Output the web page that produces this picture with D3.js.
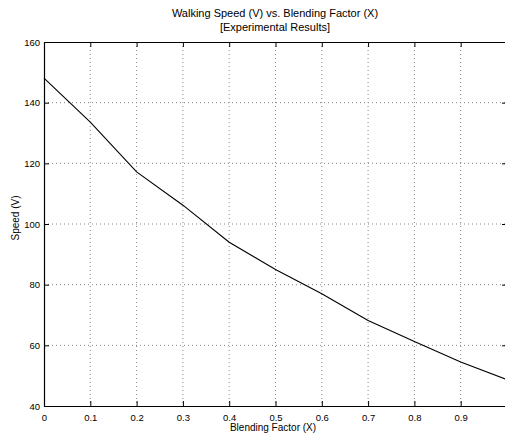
<!DOCTYPE html>
<html>
<head>
<meta charset="utf-8">
<script src="https://cdn.jsdelivr.net/npm/d3@7"></script>
<style>
  body { margin: 0; background: #fff; }
  svg { display: block; font-family: "Liberation Sans", Arial, sans-serif; }
</style>
</head>
<body>
<svg id="chart" width="505" height="435"></svg>
<script>
// data
var blending = [0, 0.1, 0.2, 0.3, 0.4, 0.5, 0.6, 0.7, 0.8, 0.9, 1.0];
var speed = [148.1, 133.6, 117.2, 106.2, 94.0, 85.0, 77.0, 68.2, 61.3, 54.5, 48.7];
var xTicks = [0, 0.1, 0.2, 0.3, 0.4, 0.5, 0.6, 0.7, 0.8, 0.9, 1.0];
var yTicks = [40, 60, 80, 100, 120, 140, 160];

var margin = {top: 42, right: -2, bottom: 29, left: 44},
    width = 505 - margin.left - margin.right,
    height = 435 - margin.top - margin.bottom;

var svg = d3.select('#chart');
var g = svg.append('g').attr('transform', 'translate(' + margin.left + ',' + margin.top + ')');

var x = d3.scaleLinear().domain([0, 1]).range([0, width]);
var y = d3.scaleLinear().domain([40, 160]).range([height, 0]);

// dotted grid
g.selectAll('.vgrid')
  .data(xTicks.slice(1, -1))
  .enter().append('line')
  .attr('x1', d => x(d)).attr('x2', d => x(d))
  .attr('y1', 0).attr('y2', height)
  .attr('stroke', '#888').attr('stroke-width', 1)
  .attr('stroke-dasharray', '1,3');

g.selectAll('.hgrid')
  .data(yTicks.slice(1, -1))
  .enter().append('line')
  .attr('x1', 0).attr('x2', width)
  .attr('y1', d => y(d)).attr('y2', d => y(d))
  .attr('stroke', '#888').attr('stroke-width', 1)
  .attr('stroke-dasharray', '1,3');

// axes, ticks pointing inwards
function styleAxis(sel) {
  sel.select('.domain').attr('stroke', '#000').attr('stroke-width', 1.2);
  sel.selectAll('.tick line').attr('stroke', '#000');
  sel.selectAll('.tick text').attr('fill', '#000').style('font-size', '9.5px')
    .style('font-family', '"Liberation Sans", Arial, sans-serif');
}

var fmtX = d => d === 0 ? '0' : d3.format('.1f')(d);

g.append('g')
  .attr('transform', 'translate(0,' + height + ')')
  .call(d3.axisBottom(x).tickValues(xTicks.slice(0, -1)).tickFormat(fmtX)
    .tickSizeInner(-5).tickSizeOuter(0).tickPadding(8))
  .call(styleAxis);

g.append('g')
  .call(d3.axisTop(x).tickValues(xTicks).tickFormat('')
    .tickSizeInner(-5).tickSizeOuter(0))
  .call(styleAxis);

g.append('g')
  .call(d3.axisLeft(y).tickValues(yTicks).tickFormat(d3.format('d'))
    .tickSizeInner(-5).tickSizeOuter(0).tickPadding(4))
  .call(styleAxis);

g.append('g')
  .attr('transform', 'translate(' + width + ',0)')
  .call(d3.axisRight(y).tickValues(yTicks).tickFormat('')
    .tickSizeInner(-5).tickSizeOuter(0))
  .call(styleAxis);

// the curve
var line = d3.line()
  .x((d, i) => x(blending[i]))
  .y(d => y(d));

g.append('path')
  .datum(speed)
  .attr('d', line)
  .attr('fill', 'none')
  .attr('stroke', '#000')
  .attr('stroke-width', 1.1);

// titles
svg.append('text')
  .attr('x', 275).attr('y', 17)
  .attr('text-anchor', 'middle')
  .style('font-size', '11px')
  .text('Walking Speed (V) vs. Blending Factor (X)');

svg.append('text')
  .attr('x', 275).attr('y', 31)
  .attr('text-anchor', 'middle')
  .style('font-size', '11px')
  .text('[Experimental Results]');

svg.append('text')
  .attr('x', 273).attr('y', 431)
  .attr('text-anchor', 'middle')
  .style('font-size', '10px')
  .text('Blending Factor (X)');

svg.append('text')
  .attr('transform', 'translate(19,218) rotate(-90)')
  .attr('text-anchor', 'middle')
  .style('font-size', '10px')
  .text('Speed (V)');
</script>
</body>
</html>
